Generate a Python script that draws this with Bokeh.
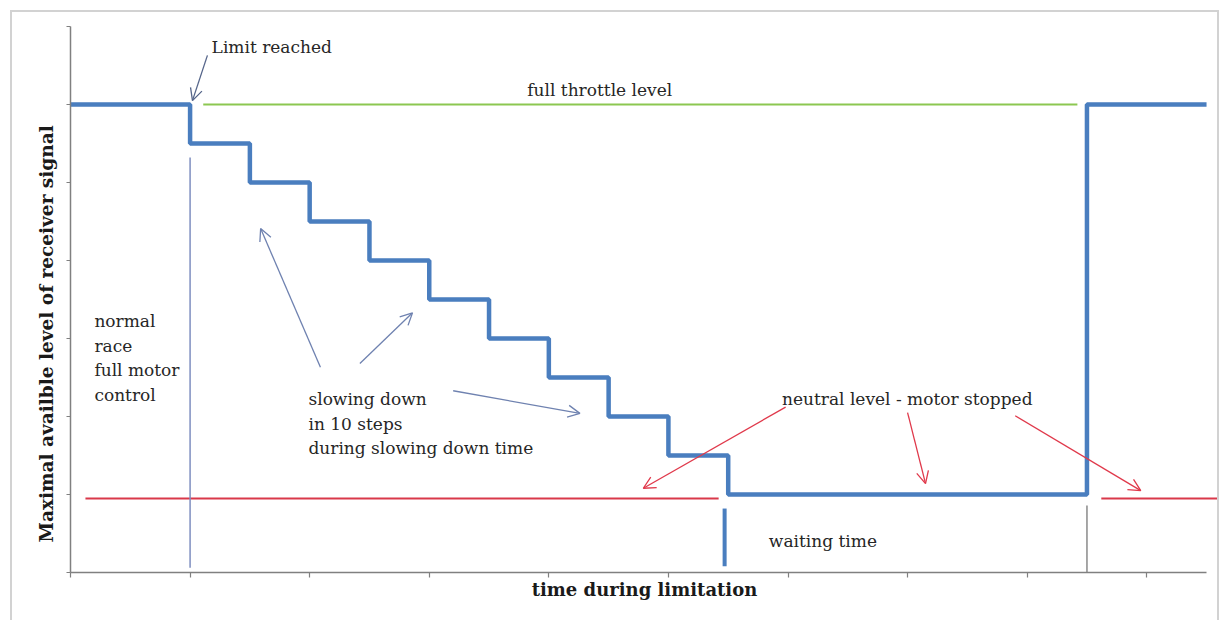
from bokeh.plotting import figure
from bokeh.models import Label, Arrow, OpenHead, FixedTicker, Range1d, Title
from bokeh.embed import file_html
from bokeh.resources import INLINE

# ---- data (time units along x, signal level along y) ----
step_time = [0, 1, 1.5, 2, 2.5, 3, 3.5, 4, 4.5, 5, 5.5, 8.5, 9.5]
step_level = [6, 5.5, 5, 4.5, 4, 3.5, 3, 2.5, 2, 1.5, 1, 6, 6]

full_throttle_time = [1.11, 8.42]
full_throttle_level = [6, 6]

neutral_left_time = [0.125, 5.42]
neutral_right_time = [8.62, 9.62]
neutral_level = [0.95, 0.95]

limit_marker_time = [1.0, 1.0]
limit_marker_level = [0.06, 5.32]
wait_start_time = [5.47, 5.47]
wait_start_level = [0.08, 0.82]
wait_end_time = [8.5, 8.5]
wait_end_level = [0.0, 0.86]

x_ticks = [0, 1, 2, 3, 4, 5, 6, 7, 8, 9]
y_ticks = [0, 1, 2, 3, 4, 5, 6, 7]

# annotation texts: (text, time, level)
notes = [
    ("Limit reached", 1.18, 6.74),
    ("full throttle level", 3.82, 6.19),
    ("normal", 0.20, 3.23),
    ("race", 0.20, 2.90),
    ("full motor", 0.20, 2.60),
    ("control", 0.20, 2.28),
    ("slowing down", 1.99, 2.23),
    ("in 10 steps", 1.99, 1.91),
    ("during slowing down time", 1.99, 1.59),
    ("neutral level - motor stopped", 5.95, 2.23),
    ("waiting time", 5.84, 0.40),
]

# arrows: (x_start, y_start, x_end, y_end, colour)
arrows = [
    (1.145, 6.63, 1.02, 6.05, "#55658a"),
    (2.09, 2.63, 1.59, 4.41, "#6f82b0"),
    (2.42, 2.68, 2.86, 3.33, "#6f82b0"),
    (3.20, 2.33, 4.26, 2.04, "#6f82b0"),
    (5.98, 2.12, 4.79, 1.08, "#e0394b"),
    (7.00, 2.05, 7.15, 1.14, "#e0394b"),
    (7.90, 2.01, 8.95, 1.05, "#e0394b"),
]

SERIF = "DejaVu Serif"
TEXT_COLOR = "#262626"

p = figure(width=1209, height=610, output_backend="svg", toolbar_location=None,
           x_range=Range1d(0, 9.6), y_range=Range1d(0, 7),
           min_border_left=58, min_border_right=3, min_border_top=14, min_border_bottom=50)
p.styles = {"margin-left": "10px", "margin-top": "10px",
            "border-top": "2px solid #d2d2d2", "border-left": "2px solid #d2d2d2",
            "border-right": "2px solid #d2d2d2"}
p.outline_line_color = None
p.grid.visible = False
p.background_fill_color = "white"
p.border_fill_color = "white"

for ax, ticks in ((p.xaxis[0], x_ticks), (p.yaxis[0], y_ticks)):
    ax.ticker = FixedTicker(ticks=ticks)
    ax.major_label_overrides = {t: "" for t in ticks}
    ax.axis_line_color = "#808080"
    ax.axis_line_width = 1.5
    ax.major_tick_line_color = "#808080"
    ax.major_tick_line_width = 1.2
    ax.major_tick_in = 0
    ax.minor_tick_line_color = None
    ax.major_label_standoff = 0

p.xaxis[0].bounds = (0, 9.5)
p.xaxis[0].major_tick_out = 5
p.xaxis[0].axis_label = "time during limitation"
p.xaxis[0].axis_label_text_font = SERIF
p.xaxis[0].axis_label_text_font_style = "bold"
p.xaxis[0].axis_label_text_font_size = "18px"
p.xaxis[0].axis_label_text_color = "#1a1a1a"
p.xaxis[0].axis_label_standoff = 1

p.yaxis[0].major_tick_out = 4

p.add_layout(Title(text="Maximal availble level of receiver signal", align="left",
                   offset=30, standoff=19, text_font=SERIF, text_font_style="bold",
                   text_font_size="18.5px", text_color="#1a1a1a"), "left")

# lines
p.line(full_throttle_time, full_throttle_level, line_color="#8cc751", line_width=2)
p.line(neutral_left_time, neutral_level, line_color="#d9384a", line_width=2)
p.line(neutral_right_time, neutral_level, line_color="#d9384a", line_width=2)
p.line(limit_marker_time, limit_marker_level, line_color="#7f8fc0", line_width=1.5)
p.line(wait_end_time, wait_end_level, line_color="#8a8a8a", line_width=1.5)
p.line(wait_start_time, wait_start_level, line_color="#4a7ebf", line_width=4)
p.step(step_time, step_level, mode="after", line_color="#4a7ebf", line_width=4.5)

for xs, ys, xe, ye, col in arrows:
    p.add_layout(Arrow(end=OpenHead(size=12, line_color=col, line_width=1.3),
                       x_start=xs, y_start=ys, x_end=xe, y_end=ye,
                       line_color=col, line_width=1.3))

for txt, x, y in notes:
    p.add_layout(Label(x=x, y=y, text=txt, text_font=SERIF, text_font_size="17px",
                       text_color=TEXT_COLOR, text_align="left", text_baseline="middle"))

open("out.html", "w").write(file_html(p, INLINE))
